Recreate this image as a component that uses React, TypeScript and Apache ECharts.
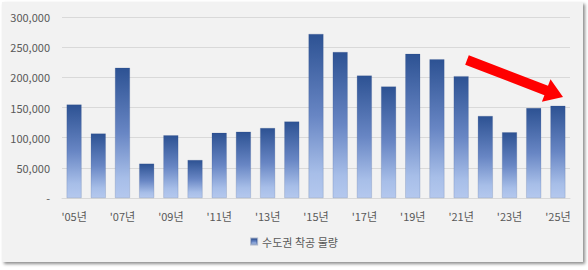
import React, { useEffect, useRef } from "react";
import * as echarts from "echarts";

const categories = [
  "'05년", "'06년", "'07년", "'08년", "'09년", "'10년", "'11년", "'12년", "'13년", "'14년",
  "'15년", "'16년", "'17년", "'18년", "'19년", "'20년", "'21년", "'22년", "'23년", "'24년", "'25년",
];
const starts = [
  155000, 107000, 216000, 57000, 104000, 63000, 108000, 110000, 116000, 127000,
  272000, 242000, 203000, 185000, 239000, 230000, 202000, 136000, 109000, 149000, 153000,
];
const seriesName = "수도권 착공 물량";

function arrowPoints(sx: number, sy: number, tx: number, ty: number, hw: number, headLen: number, headHw: number) {
  const dx = tx - sx, dy = ty - sy;
  const len = Math.sqrt(dx * dx + dy * dy);
  const ux = dx / len, uy = dy / len;
  const nx = -uy, ny = ux;
  const bx = tx - ux * headLen, by = ty - uy * headLen;
  return [
    [sx - nx * hw, sy - ny * hw],
    [bx - nx * hw, by - ny * hw],
    [bx - nx * headHw, by - ny * headHw],
    [tx, ty],
    [bx + nx * headHw, by + ny * headHw],
    [bx + nx * hw, by + ny * hw],
    [sx + nx * hw, sy + ny * hw],
  ];
}

export default function App() {
  const ref = useRef<HTMLDivElement>(null);
  useEffect(() => {
    if (!ref.current) return;
    const chart = echarts.init(ref.current, undefined, { renderer: "svg" });
    const font = "'Noto Sans CJK KR', 'Noto Sans', sans-serif";
    chart.setOption({
      animation: false,
      backgroundColor: "transparent",
      grid: { left: 62, right: 18, top: 17, bottom: 72, containLabel: false },
      legend: {
        data: [seriesName],
        bottom: 18,
        left: "center",
        icon: "rect",
        itemWidth: 6,
        itemHeight: 6,
        itemGap: 4,
        textStyle: { color: "#595959", fontSize: 11, fontFamily: font },
      },
      xAxis: {
        type: "category",
        data: categories,
        axisTick: { show: false },
        axisLine: { lineStyle: { color: "#d9d9d9" } },
        axisLabel: { interval: 1, color: "#595959", fontSize: 11, margin: 12, fontFamily: font },
      },
      yAxis: {
        type: "value",
        min: 0,
        max: 300000,
        interval: 50000,
        axisLine: { show: false },
        axisTick: { show: false },
        splitLine: { lineStyle: { color: "#d9d9d9" } },
        axisLabel: {
          color: "#595959",
          fontSize: 11,
          margin: 12,
          fontFamily: font,
          formatter: (v: number) => (v === 0 ? "-" : v.toLocaleString("en-US")),
        },
      },
      series: [
        {
          name: seriesName,
          type: "bar",
          data: starts,
          barWidth: 15,
          itemStyle: {
            color: new echarts.graphic.LinearGradient(0, 0, 0, 1, [
              { offset: 0, color: "#2d5293" },
              { offset: 0.5, color: "#6886c4" },
              { offset: 0.85, color: "#a7bee8" },
              { offset: 1, color: "#b4c8ee" },
            ]),
            borderColor: "rgba(40,70,130,0.35)",
            borderWidth: 0.5,
          },
        },
      ],
      graphic: [
        {
          type: "polygon",
          z: 100,
          shape: { points: arrowPoints(467, 60, 563, 97, 5, 18, 12) },
          style: { fill: "#ff0000" },
        },
      ],
    });
    return () => chart.dispose();
  }, []);
  return (
    <div style={{ position: "fixed", left: 0, top: 0, width: 588, height: 270, background: "#ffffff" }}>
      <div
        style={{
          position: "absolute",
          left: 2,
          top: 2,
          width: 581,
          height: 260,
          background: "#f2f2f2",
          boxShadow: "2px 2px 3px rgba(0,0,0,0.45)",
        }}
      />
      <div ref={ref} style={{ position: "absolute", left: 0, top: 0, width: 588, height: 270 }} />
    </div>
  );
}
